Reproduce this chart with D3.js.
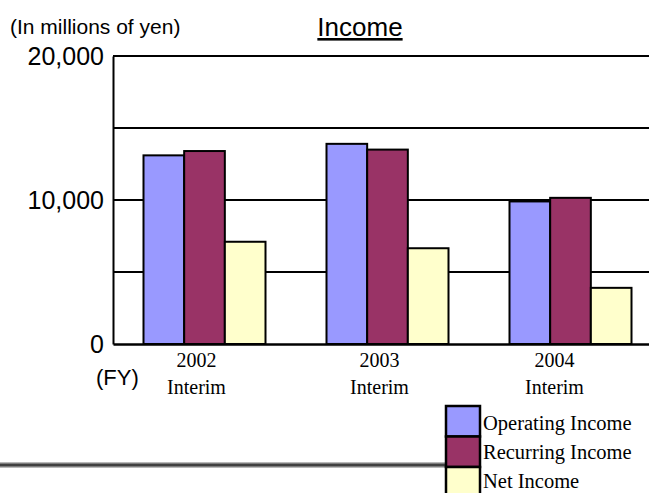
<!DOCTYPE html>
<html>
<head>
<meta charset="utf-8">
<script src="https://cdn.jsdelivr.net/npm/d3@7"></script>
<style>
  body { margin: 0; background: #fff; }
  svg { display: block; }
</style>
</head>
<body>
<svg id="chart" width="649" height="493"></svg>
<script>
const years = ["2002", "2003", "2004"];
const period = "Interim";
const series = ["Operating Income", "Recurring Income", "Net Income"];
const operating = [13100, 13900, 9900];
const recurring = [13400, 13500, 10150];
const net = [7100, 6650, 3900];
const yTicks = [0, 10000, 20000];
const gridTicks = [5000, 10000, 15000, 20000];
const colors = ["#9999ff", "#993366", "#ffffcc"];

const width = 649, height = 493;
const margin = { left: 113, top: 56, bottom: 344 };

const svg = d3.select("#chart");

const data = years.map((y, i) => ({ year: y, values: [operating[i], recurring[i], net[i]] }));

const xScale = d3.scaleBand()
                 .domain(years)
                 .range([margin.left, 662])
                 .paddingInner(0)
                 .paddingOuter(0);

const xSub = d3.scaleBand()
               .domain(series)
               .range([30.5, xScale.bandwidth() - 30.5]);

const yScale = d3.scaleLinear()
                 .domain([0, 20000])
                 .range([margin.bottom, margin.top]);

// grid lines
svg.append("g")
   .selectAll("line")
   .data(gridTicks)
   .enter()
   .append("line")
        .attr("x1", margin.left)
        .attr("x2", width)
        .attr("y1", d => yScale(d))
        .attr("y2", d => yScale(d))
        .attr("stroke", "#000")
        .attr("stroke-width", 2);

// bars
const group = svg.append("g")
                 .selectAll("g")
                 .data(data)
                 .enter()
                 .append("g")
                 .attr("transform", d => `translate(${xScale(d.year)},0)`);

group.selectAll("rect")
     .data(d => d.values.map((v, i) => ({ key: series[i], value: v, idx: i })))
     .enter()
     .append("rect")
        .attr("x", d => xSub(d.key))
        .attr("y", d => yScale(d.value))
        .attr("width", xSub.bandwidth())
        .attr("height", d => yScale(0) - yScale(d.value))
        .attr("fill", d => colors[d.idx])
        .attr("stroke", "#000")
        .attr("stroke-width", 2);

// axes
const yAxis = d3.axisLeft(yScale)
                .tickValues(yTicks)
                .tickSize(0)
                .tickPadding(9)
                .tickFormat(d3.format(","));

const yG = svg.append("g")
              .attr("transform", `translate(${margin.left},0)`)
              .call(yAxis);
yG.select(".domain").attr("stroke", "#000").attr("stroke-width", 2);
yG.selectAll("text")
  .attr("font-family", "Liberation Sans, Arial, sans-serif")
  .attr("font-size", 25)
  .attr("fill", "#000");

const xAxis = d3.axisBottom(xScale)
                .tickSize(0)
                .tickPadding(0)
                .tickFormat("");

const xG = svg.append("g")
              .attr("transform", `translate(0,${margin.bottom})`)
              .call(xAxis);
xG.select(".domain").attr("stroke", "#000").attr("stroke-width", 2.4);

const labelShift = [-8, -8, -16];
const labels = xG.selectAll(".tick")
                 .append("g")
                 .attr("transform", (d, i) => `translate(${labelShift[i]},0)`);
labels.append("text")
      .attr("y", 23)
      .attr("text-anchor", "middle")
      .attr("font-family", "Liberation Serif, Times New Roman, serif")
      .attr("font-size", 20)
      .attr("fill", "#000")
      .text(d => d);
labels.append("text")
      .attr("y", 50)
      .attr("text-anchor", "middle")
      .attr("font-family", "Liberation Serif, Times New Roman, serif")
      .attr("font-size", 20)
      .attr("fill", "#000")
      .text(period);

// texts
svg.append("text")
   .attr("x", 10)
   .attr("y", 34)
   .attr("font-family", "Liberation Sans, Arial, sans-serif")
   .attr("font-size", 21)
   .attr("fill", "#000")
   .text("(In millions of yen)");

svg.append("text")
   .attr("x", 360)
   .attr("y", 36)
   .attr("text-anchor", "middle")
   .attr("font-family", "Liberation Sans, Arial, sans-serif")
   .attr("font-size", 26)
   .attr("text-decoration", "underline")
   .attr("fill", "#000")
   .text("Income");

svg.append("text")
   .attr("x", 96)
   .attr("y", 385)
   .attr("font-family", "Liberation Sans, Arial, sans-serif")
   .attr("font-size", 22)
   .attr("fill", "#000")
   .text("(FY)");

// decorative rule
const grad = svg.append("defs")
                .append("linearGradient")
                .attr("id", "rule")
                .attr("x1", 0).attr("y1", 0).attr("x2", 0).attr("y2", 1);
grad.append("stop").attr("offset", "0%").attr("stop-color", "#d8d8d8");
grad.append("stop").attr("offset", "50%").attr("stop-color", "#222");
grad.append("stop").attr("offset", "100%").attr("stop-color", "#d8d8d8");
svg.append("rect")
   .attr("x", 0)
   .attr("y", 462)
   .attr("width", 446)
   .attr("height", 6)
   .attr("fill", "url(#rule)");

// legend
const legend = svg.append("g")
                  .selectAll("g")
                  .data(series)
                  .enter()
                  .append("g")
                  .attr("transform", (d, i) => `translate(446,${406 + i * 30.5})`);
legend.append("rect")
      .attr("width", 34)
      .attr("height", 30.5)
      .attr("fill", (d, i) => colors[i])
      .attr("stroke", "#000")
      .attr("stroke-width", 2.5);
legend.append("text")
      .attr("x", 37)
      .attr("y", (d, i) => 24 - i * 1.5)
      .attr("font-family", "Liberation Serif, Times New Roman, serif")
      .attr("font-size", 20.5)
      .attr("fill", "#000")
      .text(d => d);
</script>
</body>
</html>
